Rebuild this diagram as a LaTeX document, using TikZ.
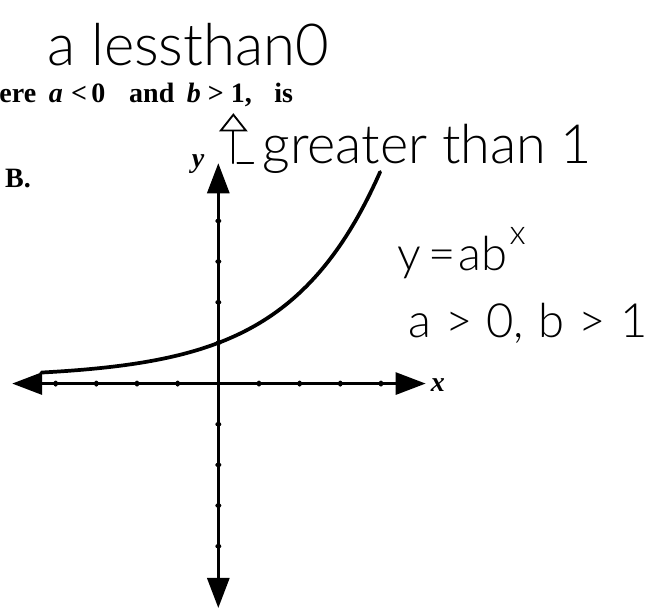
\documentclass[tikz,border=0pt]{standalone}
\usepackage{fontspec}
\setmainfont{Liberation Serif}
\newfontfamily\mano{Lato Light}
\usetikzlibrary{arrows.meta}

\begin{document}
\begin{tikzpicture}[
				eje/.style={line width=2.2pt, {Triangle[length=7.4mm,width=5.4mm]}-{Triangle[length=7.4mm,width=5.4mm]}},
				impreso/.style={inner sep=0pt, anchor=base west, font=\fontsize{19.6}{21}\selectfont\bfseries},
				rotulo/.style={inner sep=0pt, anchor=base west, font=\fontsize{19.6}{21}\selectfont\bfseries\itshape},
				nota/.style={inner sep=0pt, anchor=base west, font=\mano\fontsize{33}{36}\selectfont},
				trazo/.style={line width=1.3pt, line cap=round}]
				\useasboundingbox (-5.369,-5.591) rectangle (10.887,9.433);
				% ejes
				\coordinate (xizq) at (-5.07,0);
				\coordinate (xder) at (5.10,0);
				\coordinate (yabj) at (0,-5.52);
				\coordinate (yarr) at (0,5.42);
				\draw[eje] (xizq) -- (xder);
				\draw[eje] (yabj) -- (yarr);
				\foreach \k in {-4,-3,-2,-1,1,2,3,4} {
					\fill (\k,0) ellipse (0.055 and 0.075);
					\fill (0,\k) ellipse (0.075 and 0.055);
				}
				\node[rotulo] (ejex) at (5.22,-0.20) {x};
				\node[rotulo] (ejey) at (-0.66,5.32) {y};
				% curva
				\draw[line width=2.6pt, line cap=round, domain=-4.35:3.98, samples=80]
					plot (\x, {0.15+0.85*exp(0.448*\x)});
				% texto impreso
				\node[impreso] (enunciado) at (-5.39,6.90)
					{ere\hspace{.45em}\textit{a}\hspace{.3em}<\hspace{.15em}0\hspace{.85em}and\hspace{.45em}\textit{b}\hspace{.25em}>\hspace{.25em}1,\hspace{.8em}is};
				\node[impreso] (opcion) at (-5.25,4.83) {B.};
				% anotaciones a mano
				\node[nota, font=\mano\fontsize{40.6}{44}\selectfont] (menor) at (-4.21,7.81) {a lessthan0};
				\coordinate (flechabase) at (0.37,5.42);
				\coordinate (flechapunta) at (0.37,6.65);
				\draw[trazo, -{Triangle[open,length=4.5mm,width=7mm]}] (flechabase) -- (flechapunta);
				\coordinate (rayaizq) at (0.47,5.42);
				\coordinate (rayader) at (0.86,5.42);
				\draw[trazo] (rayaizq) -- (rayader);
				\node[nota, font=\mano\fontsize{37.8}{40}\selectfont] (mayor) at (1.08,5.42) {greater than 1};
				\node[nota] (formula) at (4.41,2.78)
					{y\hspace{.15em}=\hspace{.05em}ab\hspace{.05em}\raisebox{.55em}{\fontsize{24}{26}\selectfont x}};
				\node[nota] (condicion) at (4.66,1.13)
					{a\hspace{.3em}>\hspace{.3em}0,\hspace{.3em}b\hspace{.3em}>\hspace{.3em}1};
			\end{tikzpicture}
\end{document}
